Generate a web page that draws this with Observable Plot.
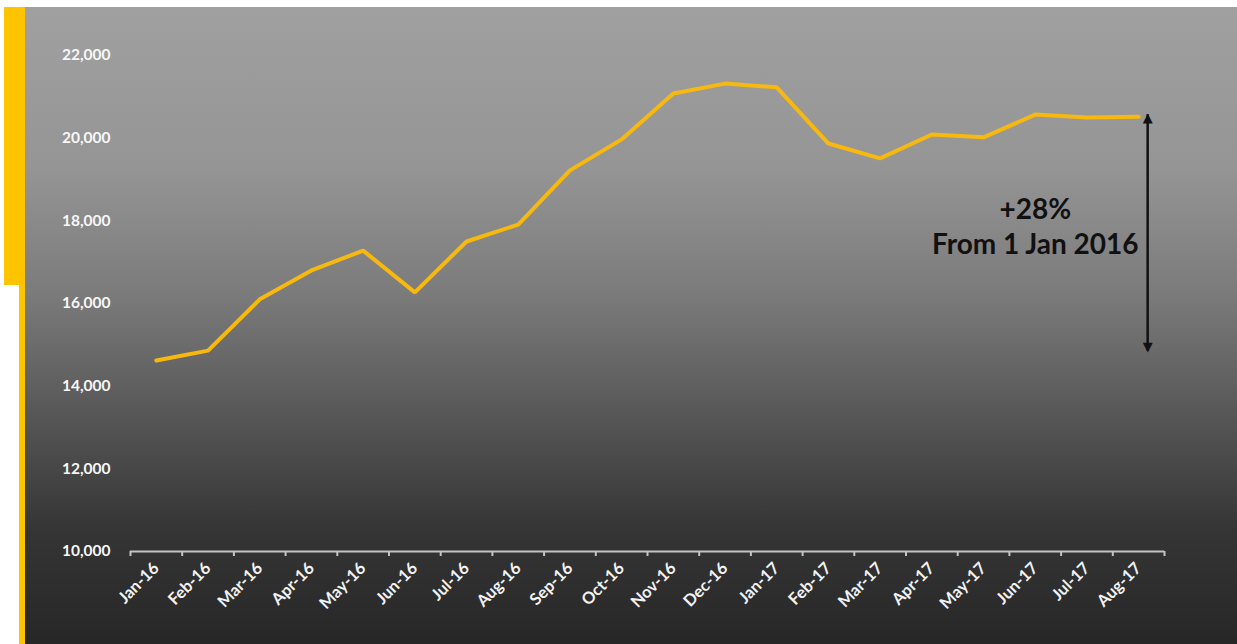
<!DOCTYPE html>
<html>
<head>
<meta charset="utf-8">
<script src="https://cdn.jsdelivr.net/npm/d3@7"></script>
<script src="https://cdn.jsdelivr.net/npm/@observablehq/plot@0.6"></script>
<style>
  html, body { margin: 0; padding: 0; background: #fff; }
  #wrap { position: relative; width: 1237px; height: 644px; overflow: hidden; background: #fff; }
  #barTop { position: absolute; left: 4px; top: 7px; width: 21px; height: 278px; background: #ffc400; }
  #barThin { position: absolute; left: 19px; top: 285px; width: 6px; height: 359px; background: #ffc400; }
  #panel { position: absolute; left: 25px; top: 7px; width: 1212px; height: 637px;
    background: linear-gradient(to bottom, #a0a0a0 0%, #959595 25%, #7b7b7b 45%, #555555 65%, #353535 82%, #272727 100%); }
  #chart { position: absolute; left: 0; top: 0; }
</style>
</head>
<body>
<div id="wrap">
  <div id="barTop"></div>
  <div id="barThin"></div>
  <div id="panel"></div>
  <div id="chart"></div>
</div>
<script>
const months = ["Jan-16","Feb-16","Mar-16","Apr-16","May-16","Jun-16","Jul-16","Aug-16","Sep-16","Oct-16","Nov-16","Dec-16","Jan-17","Feb-17","Mar-17","Apr-17","May-17","Jun-17","Jul-17","Aug-17"];
const values = [14620,14860,16100,16800,17280,16270,17500,17910,19220,19970,21080,21320,21230,19870,19510,20090,20020,20570,20500,20520];
const yTicks = [10000,12000,14000,16000,18000,20000,22000];
const annotationLines = ["+28%", "From 1 Jan 2016"];
const arrowRange = [14860, 20580];

const idx = months.map((m, i) => i);
const bounds = d3.range(months.length + 1).map(i => i - 0.5);

const chart = Plot.plot({
  width: 1237,
  height: 644,
  marginLeft: 130,
  marginRight: 73,
  marginTop: 55,
  marginBottom: 93,
  style: { background: "transparent", fontFamily: "Lato, 'Open Sans', sans-serif", overflow: "visible" },
  x: { type: "linear", domain: [-0.5, months.length - 0.5] },
  y: { domain: [10000, 22000] },
  marks: [
    Plot.ruleY([10000], { stroke: "#c4c4c4", strokeWidth: 2 }),
    Plot.axisX(bounds, { tickSize: 5, tickFormat: () => "", stroke: "#c4c4c4", strokeWidth: 2, label: null }),
    Plot.axisX(idx, {
      tickSize: 0, tickPadding: 14, tickRotate: -45, tickFormat: i => months[i],
      fill: "#f2f2f2", fontWeight: "bold", fontSize: 16.5, label: null
    }),
    Plot.axisY(yTicks, {
      tickSize: 0, tickPadding: 20, tickFormat: d3.format(","),
      fill: "#f7f7f7", fontWeight: "bold", fontSize: 15.5, label: null
    }),
    Plot.line(values, { x: (d, i) => i, y: d => d, stroke: "#f7b90f", strokeWidth: 4, strokeLinejoin: "miter" }),
    Plot.link([arrowRange], {
      x1: () => months.length - 1, x2: () => months.length - 1,
      y1: d => d[0], y2: d => d[1], dx: 9, dy: 0,
      stroke: "#111", strokeWidth: 2.5, insetTop: 6, insetBottom: 6
    }),
    Plot.text([arrowRange[1]], { x: () => months.length - 1, y: d => d, dx: 9, dy: 4, text: () => "▲", fill: "#111", fontSize: 13, fontFamily: "DejaVu Sans" }),
    Plot.text([arrowRange[0]], { x: () => months.length - 1, y: d => d, dx: 9, dy: -4, text: () => "▼", fill: "#111", fontSize: 13, fontFamily: "DejaVu Sans" }),
    Plot.text([annotationLines.join("\n")], {
      x: () => 17, y: () => 17900, text: d => d,
      fill: "#111", fontWeight: "bold", fontSize: 28, lineHeight: 1.25,
      textAnchor: "middle"
    })
  ]
});
document.getElementById("chart").appendChild(chart);
</script>
</body>
</html>
